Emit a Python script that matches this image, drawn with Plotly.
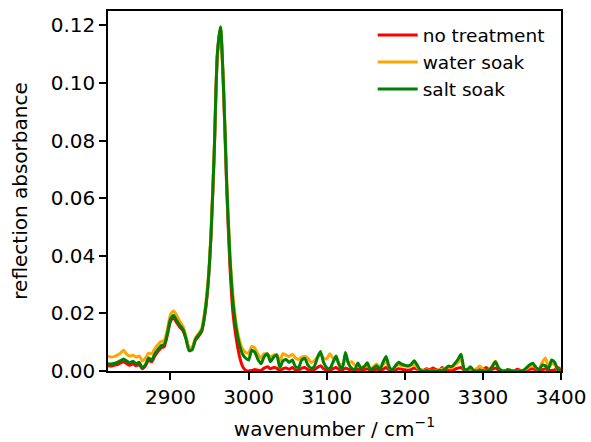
import plotly.graph_objects as go

# wavenumber grid (cm^-1), 4 cm^-1 spacing from 2820 to 3400
wavenumber = list(range(2820, 3404, 4))

no_treatment = [
    0.0018, 0.0017, 0.0020, 0.0022, 0.0028, 0.0032, 0.0025, 0.0020, 0.0025, 0.0018,
    0.0022, 0.0008, 0.0018, 0.0038, 0.0032, 0.0052, 0.0068, 0.0080, 0.0085, 0.0125,
    0.0172, 0.0185, 0.0168, 0.0152, 0.0140, 0.0112, 0.0078, 0.0082, 0.0108, 0.0120,
    0.0138, 0.0195, 0.0295, 0.0475, 0.0755, 0.1095, 0.1190, 0.0970, 0.0630, 0.0370,
    0.0200, 0.0115, 0.0055, 0.0018, 0.0003, 0.0000, 0.0002, 0.0005, 0.0003, 0.0002,
    0.0010, 0.0015, 0.0008, 0.0012, 0.0010, 0.0000, 0.0008, 0.0010, 0.0006, 0.0012,
    0.0004, 0.0002, 0.0010, 0.0012, 0.0005, 0.0002, 0.0004, 0.0012, 0.0018, 0.0008,
    0.0003, 0.0002, 0.0008, 0.0012, 0.0005, 0.0003, 0.0010, 0.0006, 0.0003, 0.0002,
    0.0006, 0.0003, 0.0005, 0.0008, 0.0002, 0.0004, 0.0006, 0.0002, 0.0006, 0.0012,
    0.0004, 0.0001, 0.0004, 0.0008, 0.0006, 0.0004, 0.0003, 0.0005, 0.0010, 0.0006,
    0.0004, 0.0002, 0.0008, 0.0004, 0.0010, 0.0005, 0.0002, 0.0012, 0.0004, 0.0003,
    0.0002, 0.0006, 0.0010, 0.0012, 0.0003, 0.0002, 0.0004, 0.0001, 0.0003, 0.0010,
    0.0004, 0.0012, 0.0004, 0.0006, 0.0010, 0.0004, 0.0001, 0.0000, 0.0002, 0.0001,
    0.0000, 0.0006, 0.0002, 0.0001, 0.0004, 0.0006, 0.0008, 0.0003, 0.0002, 0.0004,
    0.0008, 0.0003, 0.0002, 0.0004, 0.0012, 0.0005,
]

water_soak = [
    0.0050, 0.0049, 0.0050, 0.0055, 0.0062, 0.0072, 0.0058, 0.0052, 0.0055, 0.0048,
    0.0052, 0.0035, 0.0045, 0.0062, 0.0060, 0.0078, 0.0092, 0.0102, 0.0105, 0.0145,
    0.0195, 0.0208, 0.0192, 0.0172, 0.0155, 0.0120, 0.0078, 0.0082, 0.0115, 0.0130,
    0.0148, 0.0210, 0.0310, 0.0490, 0.0765, 0.1100, 0.1190, 0.0985, 0.0660, 0.0415,
    0.0260, 0.0168, 0.0110, 0.0078, 0.0065, 0.0062, 0.0085, 0.0080, 0.0058, 0.0045,
    0.0060, 0.0058, 0.0050, 0.0055, 0.0058, 0.0035, 0.0060, 0.0055, 0.0050, 0.0058,
    0.0045, 0.0040, 0.0048, 0.0050, 0.0045, 0.0030, 0.0035, 0.0048, 0.0058, 0.0045,
    0.0042, 0.0060, 0.0045, 0.0040, 0.0025, 0.0022, 0.0040, 0.0030, 0.0032, 0.0020,
    0.0018, 0.0012, 0.0015, 0.0020, 0.0010, 0.0015, 0.0024, 0.0012, 0.0020, 0.0035,
    0.0012, 0.0005, 0.0015, 0.0022, 0.0018, 0.0018, 0.0015, 0.0018, 0.0025, 0.0012,
    0.0003, 0.0002, 0.0004, 0.0002, 0.0003, 0.0002, 0.0004, 0.0006, 0.0010, 0.0012,
    0.0010, 0.0020, 0.0030, 0.0040, 0.0008, 0.0004, 0.0008, 0.0003, 0.0008, 0.0017,
    0.0006, 0.0002, 0.0004, 0.0018, 0.0034, 0.0012, 0.0002, 0.0001, 0.0003, 0.0002,
    0.0001, 0.0002, 0.0001, 0.0003, 0.0008, 0.0015, 0.0020, 0.0010, 0.0008, 0.0030,
    0.0045, 0.0015, 0.0025, 0.0022, 0.0004, 0.0002,
]

salt_soak = [
    0.0025, 0.0024, 0.0026, 0.0030, 0.0036, 0.0042, 0.0035, 0.0028, 0.0034, 0.0025,
    0.0030, 0.0010, 0.0022, 0.0045, 0.0038, 0.0060, 0.0075, 0.0088, 0.0092, 0.0130,
    0.0180, 0.0193, 0.0175, 0.0158, 0.0145, 0.0110, 0.0070, 0.0075, 0.0110, 0.0125,
    0.0140, 0.0200, 0.0300, 0.0480, 0.0760, 0.1100, 0.1195, 0.0980, 0.0650, 0.0400,
    0.0240, 0.0150, 0.0095, 0.0060, 0.0045, 0.0038, 0.0072, 0.0065, 0.0040, 0.0025,
    0.0050, 0.0060, 0.0032, 0.0048, 0.0055, 0.0012, 0.0035, 0.0040, 0.0030, 0.0038,
    0.0015, 0.0012, 0.0038, 0.0044, 0.0020, 0.0010, 0.0015, 0.0045, 0.0068, 0.0030,
    0.0012, 0.0008, 0.0030, 0.0052, 0.0020, 0.0008, 0.0064, 0.0025, 0.0010, 0.0005,
    0.0028, 0.0008, 0.0015, 0.0029, 0.0004, 0.0010, 0.0018, 0.0005, 0.0030, 0.0050,
    0.0015, 0.0003, 0.0018, 0.0030, 0.0024, 0.0020, 0.0018, 0.0022, 0.0036, 0.0020,
    0.0002, 0.0000, 0.0002, 0.0000, 0.0001, 0.0000, 0.0002, 0.0001, 0.0008, 0.0017,
    0.0015, 0.0026, 0.0040, 0.0058, 0.0008, 0.0005, 0.0015, 0.0002, 0.0000, 0.0002,
    0.0001, 0.0000, 0.0003, 0.0015, 0.0032, 0.0010, 0.0001, 0.0000, 0.0005, 0.0001,
    0.0000, 0.0001, 0.0000, 0.0002, 0.0012, 0.0022, 0.0027, 0.0012, 0.0005, 0.0020,
    0.0018, 0.0008, 0.0038, 0.0030, 0.0004, 0.0002,
]

series_names = ["no treatment", "water soak", "salt soak"]
series_values = [no_treatment, water_soak, salt_soak]
series_colors = ["#ff0000", "#ffa500", "#008000"]

x_tick_values = [2900, 3000, 3100, 3200, 3300, 3400]
y_tick_values = [0.00, 0.02, 0.04, 0.06, 0.08, 0.10, 0.12]

fig = go.Figure()
for name, vals, col in zip(series_names, series_values, series_colors):
    fig.add_trace(go.Scatter(
        x=wavenumber, y=vals, mode="lines", name=name,
        line=dict(color=col, width=3, shape="spline", smoothing=0.6),
    ))

axis_common = dict(
    showline=True, linecolor="black", linewidth=1.6, mirror=True,
    ticks="outside", ticklen=7, tickwidth=1.6, tickcolor="black",
    showgrid=False, zeroline=False, automargin=False,
    tickfont=dict(family="DejaVu Sans", size=20, color="black"),
)

fig.update_layout(
    width=591, height=442,
    margin=dict(l=108, r=30, t=11, b=71),
    paper_bgcolor="white", plot_bgcolor="white",
    font=dict(family="DejaVu Sans", size=20, color="black"),
    xaxis=dict(
        range=[2820, 3400], tickvals=x_tick_values,
        title=dict(text="wavenumber / cm<sup>−1</sup>", font=dict(size=20), standoff=14),
        **axis_common,
    ),
    yaxis=dict(
        range=[0, 0.125], tickvals=y_tick_values, tickformat=".2f",
        title=dict(text="reflection absorbance", font=dict(size=20), standoff=18),
        **axis_common,
    ),
    legend=dict(
        x=0.975, y=0.985, xanchor="right", yanchor="top",
        bgcolor="rgba(255,255,255,0)", borderwidth=0,
        font=dict(family="DejaVu Sans", size=18.5, color="black"),
        itemwidth=40, tracegroupgap=0,
    ),
    showlegend=True,
)

fig.write_html("out.html")
